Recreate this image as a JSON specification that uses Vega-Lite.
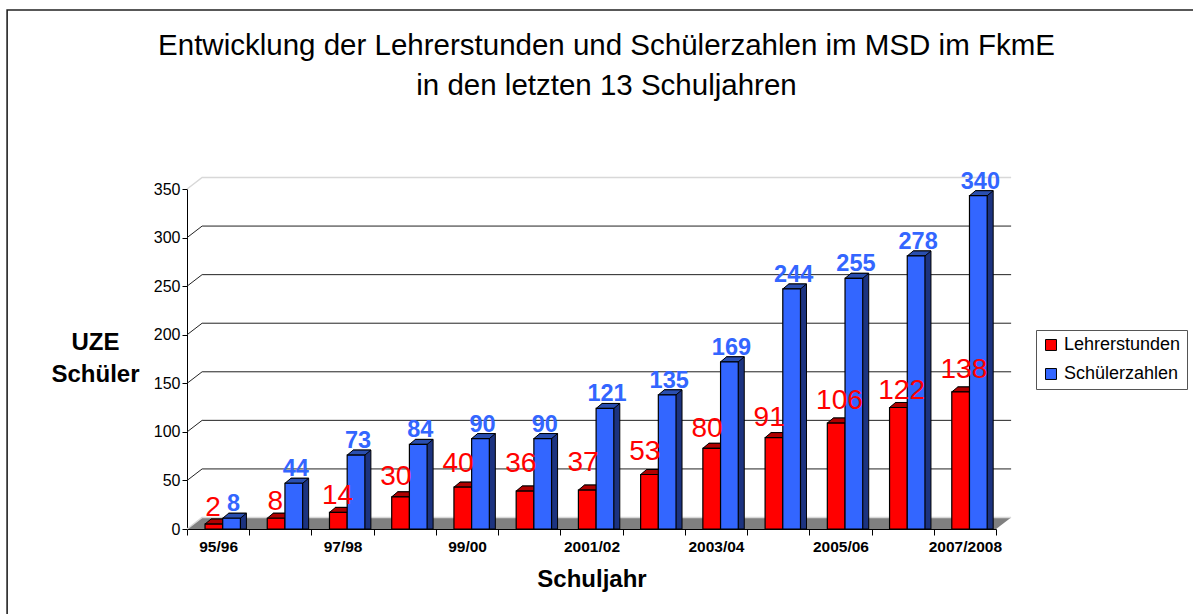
{"$schema":"https://vega.github.io/schema/vega-lite/v6.json","autosize":"none","width":809,"height":340,"padding":{"left":187,"top":189,"right":197,"bottom":85},"background":"white","config":{"font":"Liberation Sans","view":{"stroke":null}},"title":{"text":["Entwicklung der Lehrerstunden und Schülerzahlen im MSD im FkmE","in den letzten 13 Schuljahren"],"font":"Liberation Sans","fontSize":29.5,"fontWeight":"normal","color":"#000","anchor":"middle","frame":"group","dx":15,"lineHeight":40,"offset":-95},"data":{"values":[{"year":"95/96","series":"Lehrerstunden","value":2},{"year":"95/96","series":"Schülerzahlen","value":8},{"year":"96/97","series":"Lehrerstunden","value":8},{"year":"96/97","series":"Schülerzahlen","value":44},{"year":"97/98","series":"Lehrerstunden","value":14},{"year":"97/98","series":"Schülerzahlen","value":73},{"year":"98/99","series":"Lehrerstunden","value":30},{"year":"98/99","series":"Schülerzahlen","value":84},{"year":"99/00","series":"Lehrerstunden","value":40},{"year":"99/00","series":"Schülerzahlen","value":90},{"year":"2000/01","series":"Lehrerstunden","value":36},{"year":"2000/01","series":"Schülerzahlen","value":90},{"year":"2001/02","series":"Lehrerstunden","value":37},{"year":"2001/02","series":"Schülerzahlen","value":121},{"year":"2002/03","series":"Lehrerstunden","value":53},{"year":"2002/03","series":"Schülerzahlen","value":135},{"year":"2003/04","series":"Lehrerstunden","value":80},{"year":"2003/04","series":"Schülerzahlen","value":169},{"year":"2004/05","series":"Lehrerstunden","value":91},{"year":"2004/05","series":"Schülerzahlen","value":244},{"year":"2005/06","series":"Lehrerstunden","value":106},{"year":"2005/06","series":"Schülerzahlen","value":255},{"year":"2006/07","series":"Lehrerstunden","value":122},{"year":"2006/07","series":"Schülerzahlen","value":278},{"year":"2007/2008","series":"Lehrerstunden","value":138},{"year":"2007/2008","series":"Schülerzahlen","value":340}]},"datasets":{"grid":[{"year":"95/96","value":0},{"year":"95/96","value":50},{"year":"95/96","value":100},{"year":"95/96","value":150},{"year":"95/96","value":200},{"year":"95/96","value":250},{"year":"95/96","value":300},{"year":"95/96","value":350}]},"encoding":{"x":{"field":"year","type":"nominal","sort":null,"scale":{"domain":["95/96","96/97","97/98","98/99","99/00","2000/01","2001/02","2002/03","2003/04","2004/05","2005/06","2006/07","2007/2008"],"paddingInner":0,"paddingOuter":0},"axis":{"title":"Schuljahr","titleFontSize":24,"titleFontWeight":"bold","titleColor":"#000","titleFont":"Liberation Sans","titlePadding":13,"labelFontSize":15.5,"labelFontWeight":"bold","labelColor":"#000","labelAngle":0,"labelOverlap":false,"labelPadding":4,"labelExpr":"indexof(['95/96','97/98','99/00','2001/02','2003/04','2005/06','2007/2008'],datum.value)>=0?datum.label:''","tickBand":"extent","tickColor":"#000","domainColor":"#000","tickSize":6,"tickWidth":1}},"y":{"field":"value","type":"quantitative","stack":null,"scale":{"domain":[0,350],"nice":false},"axis":{"title":["UZE","Schüler"],"titleAngle":0,"titleFontSize":24,"titleFontWeight":"bold","titleColor":"#000","titleAlign":"center","titleBaseline":"alphabetic","titleLineHeight":32,"titleX":-92,"titleY":160,"values":[0,50,100,150,200,250,300,350],"labelFontSize":16,"labelColor":"#000","tickColor":"#000","domainColor":"#000","tickSize":5,"labelPadding":2,"grid":false}}},"layer":[{"data":{"name":"grid"},"transform":[{"filter":"datum.value===0"}],"mark":{"type":"point","shape":"M-211 85 L-211 -519 L975 -519","size":4,"filled":false,"stroke":"#222","strokeWidth":1.6,"opacity":1}},{"data":{"name":"grid"},"transform":[{"filter":"datum.value===0"}],"mark":{"type":"point","shape":"M-31 0 L778 0 L793 -11.5 L-16 -11.5 Z","size":4,"filled":true,"fill":"#808080","stroke":null,"opacity":1}},{"data":{"name":"grid"},"transform":[{"filter":"datum.value>0&&datum.value<350"}],"mark":{"type":"point","shape":"M-31 0 L-16 -11.5 L793 -11.5","size":4,"filled":false,"stroke":"#222","strokeWidth":1,"opacity":1}},{"data":{"name":"grid"},"transform":[{"filter":"datum.value===0||datum.value===350"}],"mark":{"type":"point","shape":"M-31 0 L-16 -11.5 L793 -11.5","size":4,"filled":false,"stroke":"#d8d8d8","strokeWidth":1.5,"opacity":1}},{"transform":[{"filter":"datum.series==='Lehrerstunden'"}],"mark":{"type":"bar","width":17.7,"color":"#a80000","xOffset":-2.25,"x2Offset":-2.25,"yOffset":-4.7,"y2Offset":-4.7}},{"transform":[{"filter":"datum.series==='Lehrerstunden'"}],"mark":{"type":"bar","width":17.7,"color":"#a80000","xOffset":-1.25,"x2Offset":-1.25,"yOffset":-5.5,"y2Offset":-5.5}},{"transform":[{"filter":"datum.series==='Lehrerstunden'"}],"mark":{"type":"bar","width":17.7,"color":"#a80000","xOffset":-0.25,"x2Offset":-0.25,"yOffset":-6.3,"y2Offset":-6.3}},{"transform":[{"filter":"datum.series==='Lehrerstunden'"}],"mark":{"type":"bar","width":17.7,"color":"#a80000","xOffset":0.75,"x2Offset":0.75,"yOffset":-7.2,"y2Offset":-7.2}},{"transform":[{"filter":"datum.series==='Lehrerstunden'"}],"mark":{"type":"bar","width":17.7,"color":"#a80000","stroke":"#000","strokeWidth":1,"xOffset":1.75,"x2Offset":1.75,"yOffset":-8,"y2Offset":-8}},{"transform":[{"filter":"datum.series==='Schülerzahlen'"}],"mark":{"type":"bar","width":17.7,"color":"#1c3380","xOffset":15.45,"x2Offset":15.45,"yOffset":-4.7,"y2Offset":-4.7}},{"transform":[{"filter":"datum.series==='Schülerzahlen'"}],"mark":{"type":"bar","width":17.7,"color":"#1c3380","xOffset":16.45,"x2Offset":16.45,"yOffset":-5.5,"y2Offset":-5.5}},{"transform":[{"filter":"datum.series==='Schülerzahlen'"}],"mark":{"type":"bar","width":17.7,"color":"#1c3380","xOffset":17.45,"x2Offset":17.45,"yOffset":-6.3,"y2Offset":-6.3}},{"transform":[{"filter":"datum.series==='Schülerzahlen'"}],"mark":{"type":"bar","width":17.7,"color":"#1c3380","xOffset":18.45,"x2Offset":18.45,"yOffset":-7.2,"y2Offset":-7.2}},{"transform":[{"filter":"datum.series==='Schülerzahlen'"}],"mark":{"type":"bar","width":17.7,"color":"#1c3380","stroke":"#000","strokeWidth":1,"xOffset":19.45,"x2Offset":19.45,"yOffset":-8,"y2Offset":-8}},{"transform":[{"filter":"datum.series==='Lehrerstunden'"}],"mark":{"type":"point","shape":"M-8.85 0 L8.85 0 L14.85 -5 L-2.85 -5 Z","size":4,"filled":true,"fill":"#b00000","stroke":"#000","strokeWidth":1,"opacity":1,"xOffset":-4.25,"yOffset":-3}},{"transform":[{"filter":"datum.series==='Schülerzahlen'"}],"mark":{"type":"point","shape":"M-8.85 0 L8.85 0 L14.85 -5 L-2.85 -5 Z","size":4,"filled":true,"fill":"#2a4fb0","stroke":"#000","strokeWidth":1,"opacity":1,"xOffset":13.45,"yOffset":-3}},{"transform":[{"filter":"datum.series==='Lehrerstunden'"}],"mark":{"type":"bar","width":17.7,"stroke":"#000","strokeWidth":1.2,"xOffset":-4.25,"x2Offset":-4.25,"yOffset":-3,"y2Offset":-3},"encoding":{"color":{"field":"series","type":"nominal","sort":null,"scale":{"domain":["Lehrerstunden","Schülerzahlen"],"range":["#ff0000","#3366ff"]},"legend":{"title":null,"orient":"none","legendX":849,"legendY":141,"strokeColor":"#555","fillColor":"#fff","padding":6,"labelFontSize":18,"labelColor":"#000","labelFont":"Liberation Sans","symbolType":"square","symbolSize":120,"symbolStrokeColor":"#000","symbolStrokeWidth":1,"rowPadding":11,"labelOffset":4,"cornerRadius":0}}}},{"transform":[{"filter":"datum.series==='Schülerzahlen'"}],"mark":{"type":"bar","width":17.7,"stroke":"#000","strokeWidth":1.2,"xOffset":13.45,"x2Offset":13.45,"yOffset":-3,"y2Offset":-3},"encoding":{"color":{"field":"series","type":"nominal","sort":null,"scale":{"domain":["Lehrerstunden","Schülerzahlen"],"range":["#ff0000","#3366ff"]}}}},{"transform":[{"filter":"datum.series==='Lehrerstunden'&&datum.value<=14"}],"mark":{"type":"text","color":"#ff0000","fontSize":28,"align":"center","baseline":"alphabetic","xOffset":-5,"yOffset":-11},"encoding":{"text":{"field":"value","type":"quantitative"}}},{"transform":[{"filter":"datum.series==='Lehrerstunden'&&(datum.value===30||datum.value===80||datum.value===91)"}],"mark":{"type":"text","color":"#ff0000","fontSize":28,"align":"center","baseline":"alphabetic","xOffset":-9,"yOffset":-14.5},"encoding":{"text":{"field":"value","type":"quantitative"}}},{"transform":[{"filter":"datum.series==='Lehrerstunden'&&(datum.value===40||datum.value===53)"}],"mark":{"type":"text","color":"#ff0000","fontSize":28,"align":"center","baseline":"alphabetic","xOffset":-9,"yOffset":-18},"encoding":{"text":{"field":"value","type":"quantitative"}}},{"transform":[{"filter":"datum.series==='Lehrerstunden'&&(datum.value===36||datum.value===37)"}],"mark":{"type":"text","color":"#ff0000","fontSize":28,"align":"center","baseline":"alphabetic","xOffset":-8.5,"yOffset":-22},"encoding":{"text":{"field":"value","type":"quantitative"}}},{"transform":[{"filter":"datum.series==='Lehrerstunden'&&(datum.value===106||datum.value===138)"}],"mark":{"type":"text","color":"#ff0000","fontSize":28,"align":"center","baseline":"alphabetic","xOffset":-1,"yOffset":-17},"encoding":{"text":{"field":"value","type":"quantitative"}}},{"transform":[{"filter":"datum.series==='Lehrerstunden'&&datum.value===122"}],"mark":{"type":"text","color":"#ff0000","fontSize":28,"align":"center","baseline":"alphabetic","xOffset":-1,"yOffset":-11},"encoding":{"text":{"field":"value","type":"quantitative"}}},{"transform":[{"filter":"datum.series==='Schülerzahlen'"}],"mark":{"type":"text","color":"#3366ff","fontSize":23.5,"fontWeight":"bold","align":"center","baseline":"alphabetic","xOffset":15.5,"yOffset":-10},"encoding":{"text":{"field":"value","type":"quantitative"}}}]}
